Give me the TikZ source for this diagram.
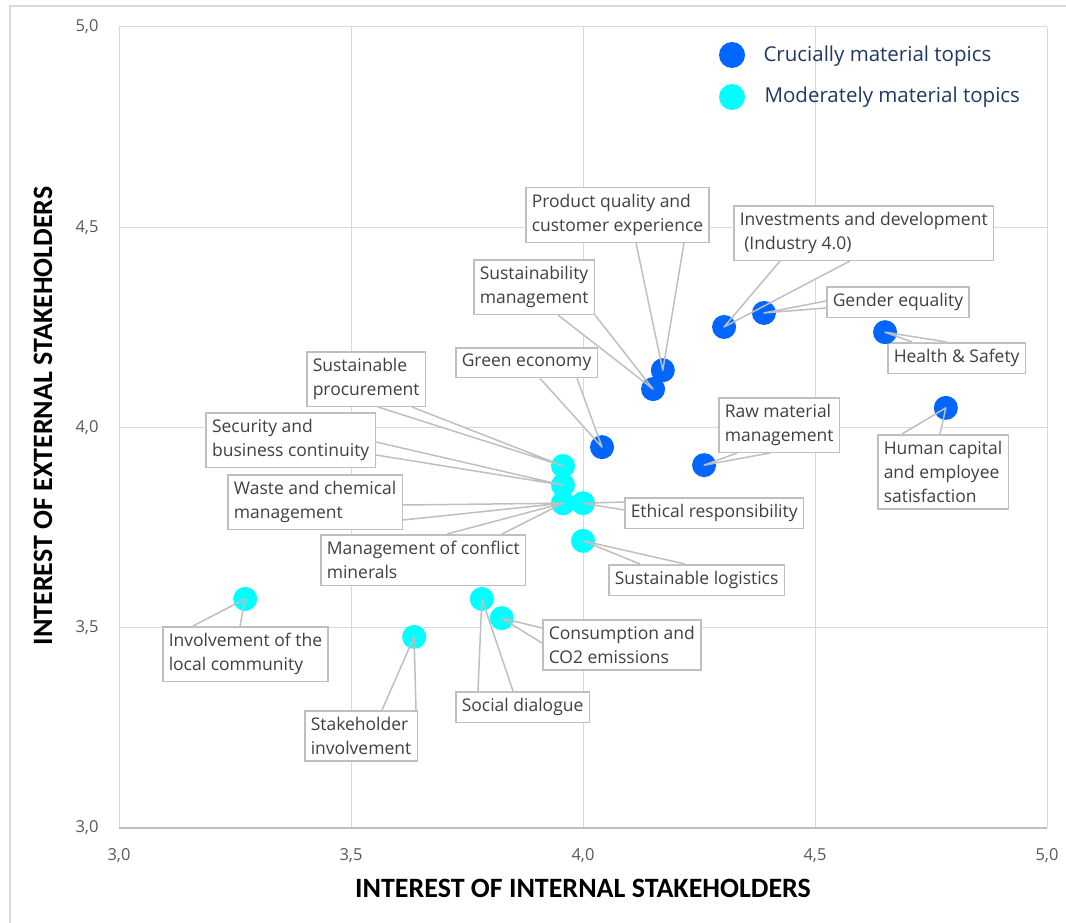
\documentclass[tikz,border=0pt]{standalone}
\usepackage{fontspec}
\setmainfont{Open Sans}
\newfontfamily\titlefont{Carlito}
\usetikzlibrary{calc}

\definecolor{gridgray}{RGB}{217,217,217}
\definecolor{axisgray}{RGB}{191,191,191}
\definecolor{boxgray}{RGB}{191,191,191}
\definecolor{ticktext}{RGB}{89,89,89}
\definecolor{labeltext}{RGB}{64,64,64}
\definecolor{crucialblue}{RGB}{0,102,255}
\definecolor{moderatecyan}{RGB}{0,255,255}
\definecolor{legendnavy}{RGB}{31,56,100}

\tikzset{
  callout/.style={draw=boxgray, line width=1.5pt, fill=white, anchor=north west,
    align=left, inner xsep=6pt, inner ysep=6.5pt, text=labeltext,
    font=\fontsize{17.5}{24}\selectfont},
  wedgeline/.style={draw=boxgray, line width=1.5pt, line join=round},
  crucial/.style={circle, fill=crucialblue, minimum size=24pt, inner sep=0pt},
  moderate/.style={circle, fill=moderatecyan, minimum size=24pt, inner sep=0pt},
  ticklabel/.style={text=ticktext, font=\fontsize{16.5}{18}\selectfont},
  legendtext/.style={anchor=west, text=legendnavy, font=\fontsize{20.5}{24}\selectfont},
  axistitle/.style={font=\titlefont\bfseries\fontsize{28}{30}\selectfont},
}

\begin{document}
\begin{tikzpicture}[x=1pt, y=-1pt]
  \useasboundingbox (0,0) rectangle (1066,923);
  \draw[gridgray, line width=2pt] (1066,6) -- (10,6) -- (10,923);

  % grid and ticks
  \foreach \i in {0,...,4} {
    \draw[gridgray, line width=1pt] ({119+232*\i},27) -- ({119+232*\i},828);
    \draw[gridgray, line width=1pt] (119,{27+200.25*\i}) -- (1047,{27+200.25*\i});
  }
  \draw[axisgray, line width=1.2pt] (119,828) -- (1047,828);
  \foreach \i/\t in {0/{3,0},1/{3,5},2/{4,0},3/{4,5},4/{5,0}} {
    \node[ticklabel] (xt\i) at ({119+232*\i},856) {\t};
    \node[ticklabel, anchor=east] (yt\i) at (102,{828-200.25*\i}) {\t};
  }
  \node[axistitle] (xtitle) at (583,888) {INTEREST OF INTERNAL STAKEHOLDERS};
  \node[axistitle, rotate=90] (ytitle) at (43,416) {INTEREST OF EXTERNAL STAKEHOLDERS};

  % topics (internal, external)
  \foreach \n/\x/\y in {pq/4.172/4.143, sm/4.151/4.096, ge/4.041/3.951, id/4.304/4.251,
      gq/4.390/4.286, hs/4.651/4.238, rm/4.261/3.906, hc/4.782/4.049,
      sp/3.957/3.904, sb/3.957/3.856, wc/3.957/3.811, cm/3.957/3.811,
      er/4.000/3.811, sl/4.000/3.717, cc/3.825/3.524, sd/3.782/3.572,
      lc/3.272/3.572, sh/3.636/3.477}
    \coordinate (\n) at ({119+464*(\x-3)},{828-400.5*(\y-3)});

  % labels
  \node[callout] (pqL) at (525,187) {Product quality and\\customer experience};
  \node[callout] (smL) at (473,259) {Sustainability\\management};
  \node[callout] (geL) at (455,347) {Green economy};
  \node[callout] (idL) at (733,205) {Investments and development\\\ (Industry 4.0)};
  \node[callout] (gqL) at (826,286) {Gender equality};
  \node[callout] (hsL) at (887,342) {Health \& Safety};
  \node[callout] (rmL) at (718,397) {Raw material\\management};
  \node[callout] (hcL) at (877,434) {Human capital\\and employee\\satisfaction};
  \node[callout] (spL) at (306,351) {Sustainable\\procurement};
  \node[callout, anchor=north east] (sbL) at (376,412) {Security and\\business continuity};
  \node[callout, anchor=north east] (wcL) at (403,474) {Waste and chemical\\management};
  \node[callout] (cmL) at (320,534) {Management of conflict\\minerals};
  \node[callout] (erL) at (624,497) {Ethical responsibility};
  \node[callout] (slL) at (608,564) {Sustainable logistics};
  \node[callout] (ccL) at (542,619) {Consumption and\\CO2 emissions};
  \node[callout] (sdL) at (455,691) {Social dialogue};
  \node[callout] (lcL) at (162,626) {Involvement of the\\local community};
  \node[callout] (shL) at (304,710) {Stakeholder\\involvement};

  \def\wedges{pq/pqL.south west/111/0/159/0, sm/smL.south west/85/0/122/0,
    ge/geL.south west/85/0/122/0, id/idL.south west/47/0/117/0,
    gq/gqL.north west/0/15/0/22, hs/hsL.north west/25/0/60/0,
    rm/rmL.south west/19/0/52/0, hc/hcL.north west/25/0/63/0,
    sp/spL.south west/72/0/106/0, sb/sbL.north east/0/30/0/43,
    wc/wcL.north east/0/31/0/46, cm/cmL.north west/127/0/182/0,
    er/erL.north west/0/5/0/13, sl/slL.north west/32/0/77/0,
    cc/ccL.north west/0/9/0/24, sd/sdL.north west/23/0/58/0,
    lc/lcL.north west/31/0/78/0, sh/shL.north west/78/0/112/0}
  \foreach \d/\a/\s/\t/\u/\v in \wedges
    \fill[white] ($(\a)+(\s,\t)$) -- (\d) -- ($(\a)+(\u,\v)$) -- cycle;

  % points
  \foreach \d in {pq,sm,ge,id,gq,hs,rm,hc}
    \node[crucial] (\d-dot) at (\d) {};
  \foreach \d in {sp,sb,wc,cm,er,sl,cc,sd,lc,sh}
    \node[moderate] (\d-dot) at (\d) {};

  \foreach \d/\a/\s/\t/\u/\v in \wedges
    \draw[wedgeline] ($(\a)+(\s,\t)$) -- (\d) -- ($(\a)+(\u,\v)$);

  % legend
  \node[crucial, minimum size=26pt] (legC) at (732,55) {};
  \node[legendtext] (legCtext) at (760,56) {Crucially material topics};
  \node[moderate, minimum size=26pt] (legM) at (732,97) {};
  \node[legendtext] (legMtext) at (761,97) {Moderately material topics};
\end{tikzpicture}
\end{document}
